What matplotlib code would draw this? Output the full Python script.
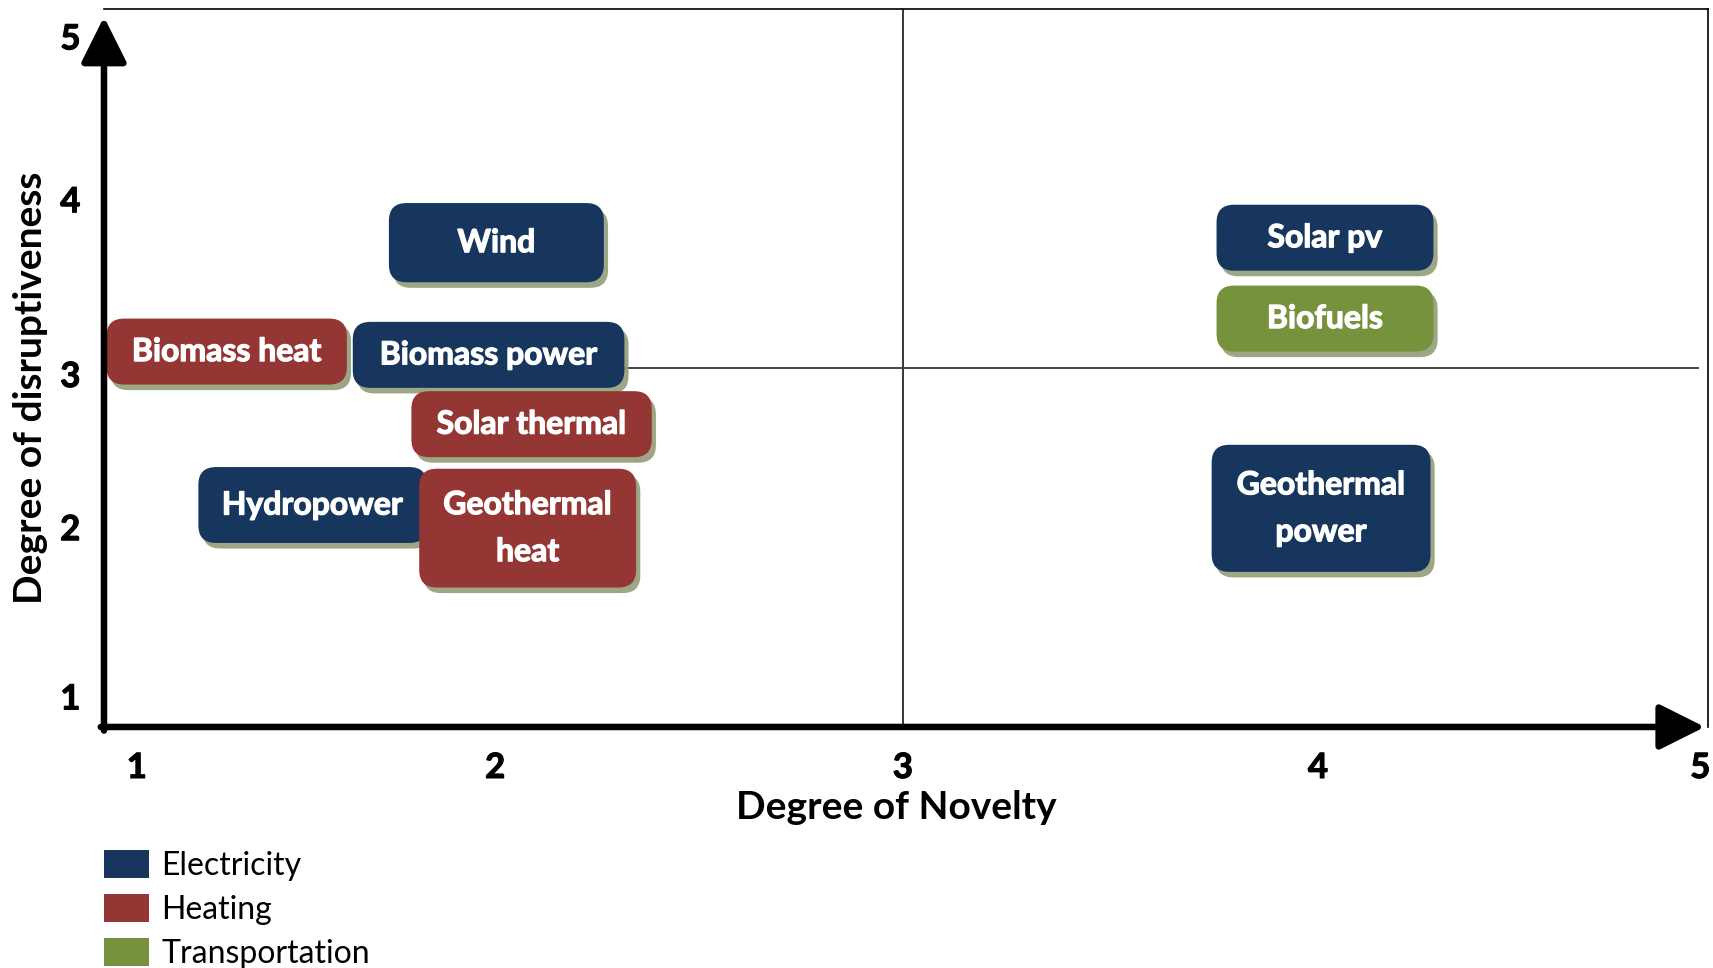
import matplotlib.pyplot as plt
import matplotlib.patheffects as pe
from matplotlib.patches import FancyBboxPatch, Patch

plt.rcParams['font.family'] = ['Lato', 'DejaVu Sans']

# Technologies placed on the novelty / disruptiveness map
technologies = ["Wind", "Biomass heat", "Biomass power", "Solar thermal",
                "Hydropower", "Geothermal\nheat", "Solar pv", "Biofuels",
                "Geothermal\npower"]
sector = ["Electricity", "Heating", "Electricity", "Heating", "Electricity",
          "Heating", "Electricity", "Transportation", "Electricity"]
novelty = [1.92, 1.23, 1.90, 2.01, 1.45, 2.00, 4.04, 4.04, 4.03]
disruptiveness = [3.75, 3.09, 3.07, 2.65, 2.16, 2.02, 3.78, 3.29, 2.14]

sectors = ["Electricity", "Heating", "Transportation"]
tick_labels = ["1", "2", "3", "4", "5"]

# layout: box sizes in axis units, tick positions as drawn
box_w = [0.55, 0.615, 0.695, 0.615, 0.585, 0.555, 0.555, 0.555, 0.56]
box_h = [0.48, 0.40, 0.40, 0.40, 0.46, 0.72, 0.40, 0.40, 0.77]
xtick_pos = [1.0, 1.917, 2.96, 4.022, 5.0]
ytick_pos = [1.0, 2.026, 2.954, 4.013, 5.0]
colors = {"Electricity": "#17365d", "Heating": "#943634",
          "Transportation": "#76923c"}
shadow_col = "#939c78"

fig = plt.figure(figsize=(17.13, 9.68), dpi=100)
ax = fig.add_axes([0.0607, 0.249, 0.9364, 0.7417])
ax.set_xlim(0.916, 5.02)
ax.set_ylim(0.815, 5.166)

# axis arrows instead of left/bottom spines
for s in ["left", "bottom"]:
    ax.spines[s].set_visible(False)
for s in ["top", "right"]:
    ax.spines[s].set_linewidth(1.2)
arrow = dict(arrowstyle='-|>,head_length=1.4,head_width=0.7', lw=4.7,
             color='black', shrinkA=0, shrinkB=0, mutation_scale=20)
ax.annotate('', xy=(0, 0.989), xytext=(0, -0.005), xycoords='axes fraction',
            arrowprops=arrow, annotation_clip=False, zorder=5)
ax.annotate('', xy=(0.998, 0), xytext=(-0.002, 0), xycoords='axes fraction',
            arrowprops=arrow, annotation_clip=False, zorder=5)

# quadrant dividers
ax.axvline(xtick_pos[2], color='black', lw=1.1, zorder=1)
ax.plot([2.2, 4.995], [2.99, 2.99], color='#444444', lw=1.4, zorder=1)

aspect = (1 / 165.0) / (1 / 390.8)
thick = [pe.withStroke(linewidth=0.9, foreground='white')]
for name, sec, x, y, w, h in zip(technologies, sector, novelty,
                                 disruptiveness, box_w, box_h):
    box = FancyBboxPatch((x - w / 2, y - h / 2), w, h,
                         boxstyle="round,pad=0,rounding_size=0.045",
                         mutation_aspect=aspect, fc=colors[sec], ec='none',
                         zorder=3)
    box.set_path_effects([pe.SimplePatchShadow(offset=(3, -4),
                                               shadow_rgbFace=shadow_col,
                                               alpha=0.9),
                          pe.Normal()])
    ax.add_patch(box)
    ax.text(x, y, name, color='white', fontsize=23, fontweight='bold',
            ha='center', va='center', linespacing=1.75, zorder=4,
            path_effects=thick)

ax.set_xticks(xtick_pos, tick_labels)
ax.set_yticks(ytick_pos, tick_labels)
ax.tick_params(length=0, labelsize=25)
ax.tick_params(axis='x', pad=18)
ax.tick_params(axis='y', pad=17)
for lab in ax.get_xticklabels() + ax.get_yticklabels():
    lab.set_fontweight('bold')
    lab.set_path_effects([pe.withStroke(linewidth=0.8, foreground='black')])

ax.set_xlabel("Degree of Novelty", fontsize=28, fontweight='bold')
ax.xaxis.set_label_coords(0.494, -0.088)
ax.set_ylabel("Degree of disruptiveness", fontsize=28, fontweight='bold')
ax.yaxis.set_label_coords(-0.035, 0.472)

handles = [Patch(facecolor=colors[s], edgecolor='none', label=s)
           for s in sectors]
ax.legend(handles=handles, loc='upper left',
          bbox_to_anchor=(104 / 1713, 1 - 850 / 968),
          bbox_transform=fig.transFigure, frameon=False, fontsize=23,
          handlelength=1.4, handleheight=0.95, handletextpad=0.4,
          labelspacing=0.42, borderpad=0, borderaxespad=0)

fig.savefig("out.png", dpi=100)
